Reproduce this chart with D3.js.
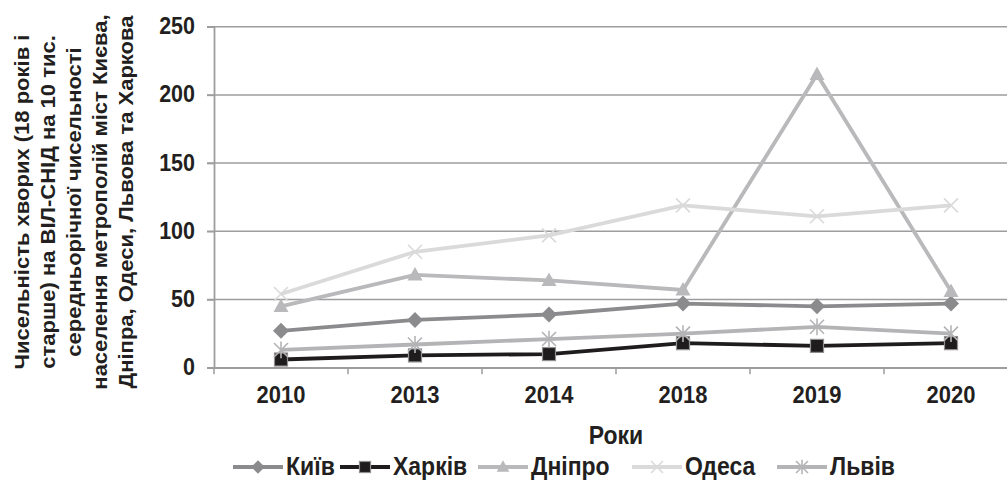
<!DOCTYPE html>
<html>
<head>
<meta charset="utf-8">
<script src="https://cdn.jsdelivr.net/npm/d3@7"></script>
<style>
  html, body { margin: 0; padding: 0; background: #fff; }
  svg { display: block; }
  text { font-family: "Liberation Sans", Arial, sans-serif; font-weight: bold; fill: #231f20; }
</style>
</head>
<body>
<svg id="chart" width="1007" height="482"></svg>
<script>
// Years on the category axis
const years = ["2010", "2013", "2014", "2018", "2019", "2020"];
const yTicks = [0, 50, 100, 150, 200, 250];

// Patients per 10 thousand residents, by city
const kyiv    = [27, 35, 39, 47, 45, 47];
const kharkiv = [6, 9, 10, 18, 16, 18];
const dnipro  = [45, 68, 64, 57, 215, 56];
const odesa   = [54, 85, 97, 119, 111, 119];
const lviv    = [13, 17, 21, 25, 30, 25];

const seriesNames = ["Київ", "Харків", "Дніпро", "Одеса", "Львів"];
const seriesValues = [kyiv, kharkiv, dnipro, odesa, lviv];

const yTitle = [
  "Чисельність хворих (18 років і",
  "старше) на ВІЛ-СНІД на 10 тис.",
  "середньорічної чисельності",
  "населення метрополій міст Києва,",
  "Дніпра, Одеси, Львова та Харкова"
];
const xTitle = "Роки";

const styles = [
  { color: "#8b8b8d", marker: "diamond" },
  { color: "#1f1c1d", marker: "square" },
  { color: "#b9b9bb", marker: "triangle" },
  { color: "#dadadb", marker: "cross" },
  { color: "#b4b4b6", marker: "star" }
];

const svg = d3.select("#chart");
const plotLeft = 214, plotRight = 1018, plotTop = 26.7, plotBottom = 367.7;
const tall = 1.12; // vertical stretch of the lettering

const x = d3.scaleBand().domain(years).range([plotLeft, plotRight]);
const y = d3.scaleLinear().domain([0, 250]).range([plotBottom, plotTop]);

// Horizontal grid lines
svg.append("g")
  .selectAll("line")
  .data(yTicks)
  .join("line")
  .attr("x1", plotLeft - 7).attr("x2", plotRight)
  .attr("y1", d => y(d)).attr("y2", d => y(d))
  .attr("stroke", "#9d9d9f").attr("stroke-width", 1.5);

// Y axis line and ticks
const yAxis = svg.append("g")
  .attr("transform", `translate(${plotLeft},0)`)
  .call(d3.axisLeft(y).tickValues(yTicks).tickSize(7).tickFormat(""));
yAxis.select(".domain").attr("stroke", "#9d9d9f").attr("stroke-width", 1.8);
yAxis.selectAll(".tick line").attr("stroke", "#9d9d9f").attr("stroke-width", 1.5);

// Y tick labels
svg.append("g")
  .selectAll("text")
  .data(yTicks)
  .join("text")
  .attr("transform", d => `translate(${plotLeft - 19},${y(d) + 7.5}) scale(1,${tall})`)
  .attr("text-anchor", "end").attr("font-size", 21.5)
  .text(d => d);

// X axis line with ticks between categories
const xAxis = svg.append("g")
  .attr("transform", `translate(0,${plotBottom})`)
  .call(d3.axisBottom(x).tickSize(0).tickFormat(""));
xAxis.select(".domain").attr("stroke", "#9d9d9f").attr("stroke-width", 1.8);
svg.append("g")
  .selectAll("line")
  .data(years.map(yr => x(yr)).concat([plotRight]))
  .join("line")
  .attr("x1", d => d).attr("x2", d => d)
  .attr("y1", plotBottom).attr("y2", plotBottom + 6.5)
  .attr("stroke", "#9d9d9f").attr("stroke-width", 1.5);

const cx = yr => x(yr) + x.bandwidth() / 2;

// X tick labels
svg.append("g")
  .selectAll("text")
  .data(years)
  .join("text")
  .attr("transform", d => `translate(${cx(d)},403) scale(1,${tall})`)
  .attr("text-anchor", "middle").attr("font-size", 22)
  .text(d => d);

function drawMarker(g, type, color, px, py, scale) {
  const s = scale || 1;
  if (type === "diamond") {
    const r = 8 * s;
    g.append("path").attr("d", `M${px},${py - r}L${px + r},${py}L${px},${py + r}L${px - r},${py}Z`)
      .attr("fill", color);
  } else if (type === "square") {
    const r = 6.5 * s;
    g.append("rect").attr("x", px - r).attr("y", py - r).attr("width", 2 * r).attr("height", 2 * r)
      .attr("fill", color).attr("stroke", "#8f8f91").attr("stroke-width", 1.2);
  } else if (type === "triangle") {
    const r = 7.5 * s;
    g.append("path").attr("d", `M${px},${py - r * 1.05}L${px + r},${py + r * 0.75}L${px - r},${py + r * 0.75}Z`)
      .attr("fill", color);
  } else if (type === "cross") {
    const r = 7 * s;
    g.append("path").attr("d", `M${px - r},${py - r}L${px + r},${py + r}M${px - r},${py + r}L${px + r},${py - r}`)
      .attr("stroke", color).attr("stroke-width", 1.6).attr("fill", "none");
  } else if (type === "star") {
    const r = 7 * s;
    g.append("path").attr("d", `M${px - r},${py - r}L${px + r},${py + r}M${px - r},${py + r}L${px + r},${py - r}M${px},${py - r * 1.2}L${px},${py + r * 1.2}`)
      .attr("stroke", color).attr("stroke-width", 1.6).attr("fill", "none");
  }
}

// Series lines and markers
const line = d3.line().x((d, i) => cx(years[i])).y(d => y(d));
seriesValues.forEach((vals, si) => {
  const st = styles[si];
  const g = svg.append("g");
  g.append("path").datum(vals).attr("d", line)
    .attr("fill", "none").attr("stroke", st.color).attr("stroke-width", 3.8)
    .attr("stroke-linejoin", "miter");
  vals.forEach((v, i) => drawMarker(g, st.marker, st.color, cx(years[i]), y(v)));
});

// Axis titles
svg.append("text")
  .attr("transform", `translate(${(plotLeft + plotRight) / 2},444) scale(1,${tall})`)
  .attr("text-anchor", "middle").attr("font-size", 23).text(xTitle);

const yt = svg.append("text").attr("transform", "translate(0,202) rotate(-90) scale(1.1,1)")
  .attr("text-anchor", "middle").attr("font-size", 20);
yTitle.forEach((t, i) => {
  yt.append("tspan").attr("x", 0).attr("y", 29 + i * 26).text(t);
});

// Legend
const legend = svg.append("g");
const legendX = [233, 340, 478, 632, 777];
seriesNames.forEach((name, i) => {
  const st = styles[i];
  const lx = legendX[i], ly = 467;
  legend.append("line").attr("x1", lx).attr("x2", lx + 50).attr("y1", ly).attr("y2", ly)
    .attr("stroke", st.color).attr("stroke-width", 3.8);
  drawMarker(legend, st.marker, st.color, lx + 25, ly, 0.85);
  legend.append("text")
    .attr("transform", `translate(${lx + 53},${ly + 8}) scale(1,${tall})`)
    .attr("font-size", 23).text(name);
});
</script>
</body>
</html>
